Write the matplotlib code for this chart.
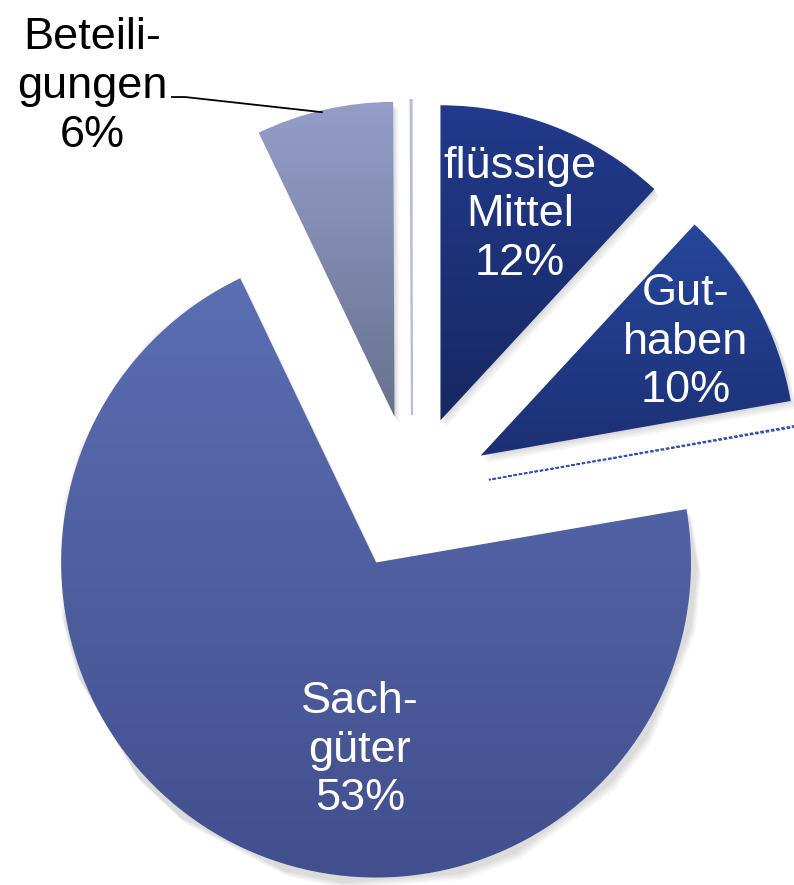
import numpy as np
import matplotlib.pyplot as plt
from matplotlib.colors import LinearSegmentedColormap

plt.rcParams['font.family'] = ['Liberation Sans', 'DejaVu Sans']

# wedge sizes as drawn (degrees), clockwise from 12 o'clock; two hair-thin slices
slice_names = ['flüssige Mittel', 'Guthaben', 'leer1', 'Sachgüter', 'Beteiligungen', 'leer2']
slice_sizes = [42.8, 37.2, 0.25, 254.2, 25.3, 0.25]
# printed labels (percentages as shown on the chart)
label_texts = ['flüssige\nMittel\n12%', 'Gut-\nhaben\n10%', '', 'Sach-\ngüter\n53%', 'Beteili-\ngungen\n6%', '']
# gradient colours top -> bottom
grad_top = ['#223a8c', '#26469c', '#3556b0', '#5b6eb2', '#959ec9', '#b4bbdc']
grad_bot = ['#172862', '#1c3074', '#3556b0', '#424f8e', '#69718f', '#b4bbdc']

fig = plt.figure(figsize=(7.94, 8.85), dpi=100)
ax = fig.add_axes([0, 0, 1, 1])

wedges, _ = ax.pie(slice_sizes, startangle=90, counterclock=False,
                   explode=[0.248] * len(slice_sizes), radius=1.0,
                   wedgeprops=dict(linewidth=0))

ax.set_aspect('equal')
ax.axis('off')

grad = np.linspace(1, 0, 256).reshape(-1, 1)
for i, w in enumerate(wedges):
    ext = w.get_path().get_extents()
    if slice_sizes[i] < 1:
        # hair-thin slice: just its outline
        w.set_facecolor('none')
        w.set_edgecolor(grad_top[i])
        w.set_linewidth(1.2)
        w.set_linestyle((0, (2, 1.2)) if i == 2 else '-')
        continue
    # soft shadow
    for k in range(4):
        sh = plt.Polygon(w.get_path().vertices + np.array([0.004 * (k + 1), -0.006 * (k + 1)]),
                         closed=True, facecolor='black', alpha=0.035, linewidth=0, zorder=0.5)
        ax.add_patch(sh)
    w.set_facecolor('none')
    w.set_zorder(2)
    cmap = LinearSegmentedColormap.from_list(f'g{i}', [grad_bot[i], grad_top[i]])
    im = ax.imshow(grad, cmap=cmap, aspect='auto', zorder=1,
                   extent=[ext.x0, ext.x1, ext.y0, ext.y1], interpolation='bilinear')
    im.set_clip_path(w)

# limits set after imshow so they stick
ax.set_xlim(-1.308, 1.213)
ax.set_ylim(-1.244, 1.565)

fs = 32.5
ls = 1.24
ax.text(0.343, 0.883, label_texts[0], color='white', fontsize=fs, ha='center', va='center',
        linespacing=ls, zorder=5)
ax.text(0.870, 0.479, label_texts[1], color='white', fontsize=fs, ha='center', va='center',
        linespacing=ls, zorder=5)
ax.text(-0.165, -0.816, label_texts[3], color='white', fontsize=fs, ha='center', va='center',
        linespacing=ls, zorder=5)
ax.text(-1.016, 1.290, label_texts[4], color='black', fontsize=fs, ha='center', va='center',
        linespacing=ls, zorder=5)

# leader line for Beteiligungen
ax.plot([-0.762, -0.72, -0.286], [1.257, 1.257, 1.209], color='black', lw=1.3, zorder=5)

fig.savefig('out.png', dpi=100)
